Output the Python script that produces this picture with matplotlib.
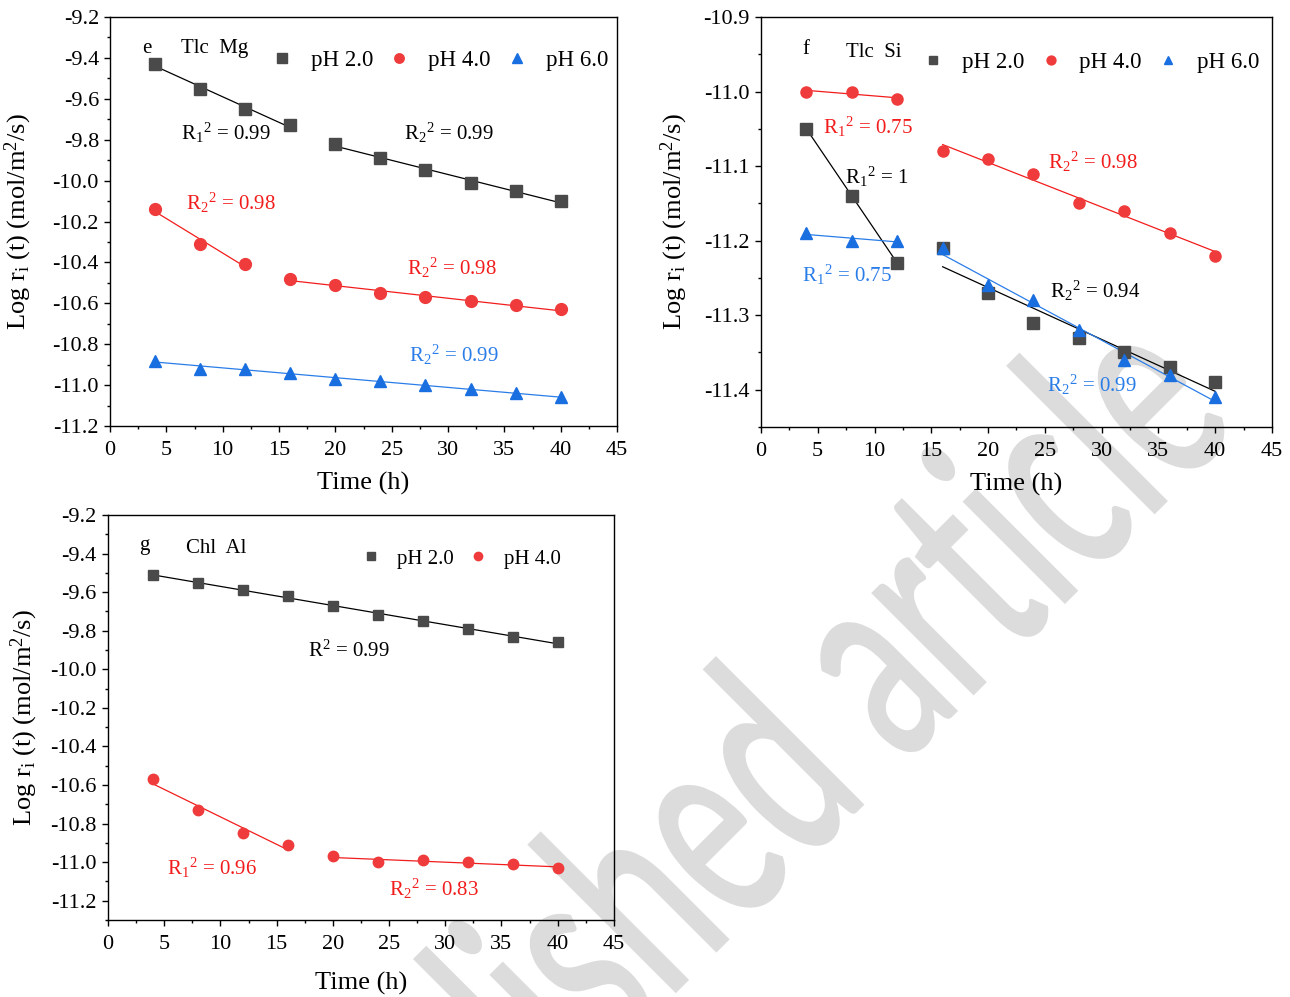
"""Dissolution rate vs. time for talc (Mg, Si) and chlorite (Al) at several pH values."""

import numpy as np
import matplotlib
matplotlib.use("Agg")
import matplotlib.pyplot as plt
import matplotlib.transforms as mtransforms
from matplotlib.font_manager import FontProperties
from matplotlib.patches import PathPatch
from matplotlib.textpath import TextPath
from matplotlib.ticker import MultipleLocator, FormatStrFormatter

plt.rcParams["font.family"] = ["Liberation Serif", "DejaVu Serif"]
plt.rcParams["mathtext.default"] = "regular"
plt.rcParams["axes.unicode_minus"] = False

time_h = [4, 8, 12, 16, 20, 24, 28, 32, 36, 40]

# panel e: talc, Mg release
e_ph2 = [-9.43, -9.55, -9.65, -9.73, -9.82, -9.89, -9.95, -10.01, -10.05, -10.10]
e_ph4 = [-10.14, -10.31, -10.41, -10.48, -10.51, -10.55, -10.57, -10.59, -10.61, -10.63]
e_ph6 = [-10.88, -10.92, -10.92, -10.94, -10.97, -10.98, -11.00, -11.02, -11.04, -11.06]

# panel f: talc, Si release
f_ph2 = [-11.05, -11.14, -11.23, -11.21, -11.27, -11.31, -11.33, -11.35, -11.37, -11.39]
f_ph4 = [-11.00, -11.00, -11.01, -11.08, -11.09, -11.11, -11.15, -11.16, -11.19, -11.22]
f_ph6 = [-11.19, -11.20, -11.20, -11.21, -11.26, -11.28, -11.32, -11.36, -11.38, -11.41]

# panel g: chlorite, Al release
g_ph2 = [-9.51, -9.55, -9.59, -9.62, -9.67, -9.72, -9.75, -9.79, -9.83, -9.86]
g_ph4 = [-10.57, -10.73, -10.85, -10.91, -10.97, -11.00, -10.99, -11.00, -11.01, -11.03]

# index ranges used for the linear fits
e_fits = {"ph2": [(0, 4), (4, 10)], "ph4": [(0, 3), (3, 10)], "ph6": [(0, 10)]}
f_fits = {"ph2": [(0, 3), (3, 10)], "ph4": [(0, 3), (3, 10)], "ph6": [(0, 3), (3, 10)]}
g_fits = {"ph2": [(0, 10)], "ph4": [(0, 4), (4, 10)]}

GREY = "#4a4a4a"
RED = "#ef3b3b"
BLUE = "#1a6fe0"
LINE_RED = "#f21c1c"
LINE_BLUE = "#2a7de8"

SERIES_STYLE = {
    "ph2": dict(marker="s", color=GREY, line="black", label="pH 2.0"),
    "ph4": dict(marker="o", color=RED, line=LINE_RED, label="pH 4.0"),
    "ph6": dict(marker="^", color=BLUE, line=LINE_BLUE, label="pH 6.0"),
}

YLABEL = r"Log r$_i$ (t) (mol/m$^2$/s)"


def draw_series(ax, key, values, fits, ms):
    style = SERIES_STYLE[key]
    x = np.array(time_h, dtype=float)
    y = np.array(values)
    ax.plot(x, y, ls="none", marker=style["marker"], ms=ms, color=style["color"],
            mec=style["color"], label=style["label"], zorder=3)
    for start, stop in fits:
        xs, ys = x[start:stop], y[start:stop]
        slope, icpt = np.polyfit(xs, ys, 1)
        ax.plot([xs[0], xs[-1]], [slope * xs[0] + icpt, slope * xs[-1] + icpt],
                color=style["line"], lw=0.9, zorder=2)


def style_axes(ax, ylim, ymajor, yminor, label_x, xlabel_y):
    ax.set_facecolor("none")
    ax.set_xlim(0, 45)
    ax.set_ylim(*ylim)
    ax.xaxis.set_major_locator(MultipleLocator(5))
    ax.xaxis.set_minor_locator(MultipleLocator(2.5))
    ax.yaxis.set_major_locator(MultipleLocator(ymajor))
    ax.yaxis.set_minor_locator(MultipleLocator(yminor))
    ax.yaxis.set_major_formatter(FormatStrFormatter("%.1f"))
    ax.tick_params(which="both", direction="out", top=False, right=False, width=1.0)
    ax.tick_params(which="major", length=4.5, labelsize=16, pad=3.5)
    ax.tick_params(axis="x", which="major", pad=6.5)
    ax.tick_params(which="minor", length=2.5)
    for sp in ax.spines.values():
        sp.set_linewidth(1.0)
    ax.set_xlabel("Time (h)", fontsize=19)
    ax.set_ylabel(YLABEL, fontsize=19)
    ax.yaxis.set_label_coords(label_x, 0.5)
    ax.xaxis.set_label_coords(0.5, xlabel_y)


def add_legend(ax, anchor, ncol, fontsize):
    ax.legend(loc="upper right", bbox_to_anchor=anchor, ncol=ncol, frameon=False,
              fontsize=fontsize, handlelength=1.0, handletextpad=0.75,
              columnspacing=0.65, markerscale=0.8, borderpad=0, borderaxespad=0)


fig = plt.figure(figsize=(12.9, 9.97), dpi=100)
ax_e = fig.add_axes([0.0853, 0.5727, 0.3930, 0.4102])
ax_f = fig.add_axes([0.5899, 0.5717, 0.3961, 0.4112])
ax_g = fig.add_axes([0.0837, 0.0772, 0.3922, 0.4062])

# e: talc Mg
draw_series(ax_e, "ph2", e_ph2, e_fits["ph2"], 8.5)
draw_series(ax_e, "ph4", e_ph4, e_fits["ph4"], 8.5)
draw_series(ax_e, "ph6", e_ph6, e_fits["ph6"], 8.5)
style_axes(ax_e, (-11.2, -9.2), 0.2, 0.1, -0.150, -0.112)
add_legend(ax_e, (0.982, 0.92), 3, 16.5)
ax_e.text(3.3, -9.352, "e", fontsize=15, ha="center", va="center")
ax_e.text(9.3, -9.352, "Tlc  Mg", fontsize=15, ha="center", va="center")
ax_e.text(10.3, -9.767, r"R$_1$$^2$ = 0.99", fontsize=15, ha="center", va="center", color="black")
ax_e.text(30.1, -9.767, r"R$_2$$^2$ = 0.99", fontsize=15, ha="center", va="center", color="black")
ax_e.text(10.75, -10.11, r"R$_2$$^2$ = 0.98", fontsize=15, ha="center", va="center", color=LINE_RED)
ax_e.text(30.35, -10.427, r"R$_2$$^2$ = 0.98", fontsize=15, ha="center", va="center", color=LINE_RED)
ax_e.text(30.5, -10.853, r"R$_2$$^2$ = 0.99", fontsize=15, ha="center", va="center", color=LINE_BLUE)

# f: talc Si
draw_series(ax_f, "ph2", f_ph2, f_fits["ph2"], 8)
draw_series(ax_f, "ph4", f_ph4, f_fits["ph4"], 8)
draw_series(ax_f, "ph6", f_ph6, f_fits["ph6"], 8)
style_axes(ax_f, (-11.45, -10.9), 0.1, 0.05, -0.139, -0.112)
add_legend(ax_f, (0.975, 0.915), 3, 16.5)
ax_f.text(3.96, -10.944, "f", fontsize=15, ha="center", va="center")
ax_f.text(9.95, -10.948, "Tlc  Si", fontsize=15, ha="center", va="center")
ax_f.text(9.42, -11.047, r"R$_1$$^2$ = 0.75", fontsize=15, ha="center", va="center", color=LINE_RED)
ax_f.text(10.2, -11.114, r"R$_1$$^2$ = 1", fontsize=15, ha="center", va="center", color="black")
ax_f.text(29.2, -11.094, r"R$_2$$^2$ = 0.98", fontsize=15, ha="center", va="center", color=LINE_RED)
ax_f.text(7.57, -11.2455, r"R$_1$$^2$ = 0.75", fontsize=15, ha="center", va="center", color=LINE_BLUE)
ax_f.text(29.4, -11.267, r"R$_2$$^2$ = 0.94", fontsize=15, ha="center", va="center", color="black")
ax_f.text(29.15, -11.393, r"R$_2$$^2$ = 0.99", fontsize=15, ha="center", va="center", color=LINE_BLUE)

# g: chlorite Al
draw_series(ax_g, "ph2", g_ph2, g_fits["ph2"], 7)
draw_series(ax_g, "ph4", g_ph4, g_fits["ph4"], 7.5)
style_axes(ax_g, (-11.3, -9.2), 0.2, 0.1, -0.134, -0.128)
add_legend(ax_g, (0.895, 0.916), 2, 15)
ax_g.text(3.2, -9.356, "g", fontsize=15, ha="center", va="center")
ax_g.text(9.64, -9.371, "Chl  Al", fontsize=15, ha="center", va="center")
ax_g.text(21.4, -9.905, r"R$^2$ = 0.99", fontsize=15, ha="center", va="center", color="black")
ax_g.text(9.29, -11.031, r"R$_1$$^2$ = 0.96", fontsize=15, ha="center", va="center", color=LINE_RED)
ax_g.text(29.0, -11.14, r"R$_2$$^2$ = 0.83", fontsize=15, ha="center", va="center", color=LINE_RED)

# diagonal grey stamp behind the panels
WATERMARK = "Unpublished article"
wm_prop = FontProperties(family="Lato", weight="semibold")
wm_path = TextPath((0, 0), WATERMARK, size=1, prop=wm_prop)
stem = 0.06
d_stem = TextPath((0, 0), WATERMARK[:11], size=1, prop=wm_prop).get_extents().x1 - stem
l_stem = TextPath((0, 0), WATERMARK[:18], size=1, prop=wm_prop).get_extents().x1 - stem
l_top = TextPath((0, 0), "l", size=1, prop=wm_prop).get_extents().y1
sx = np.hypot(1012 - 708, 663 - 360) / (l_stem - d_stem)
sy = 210 / l_top
wm_trans = (mtransforms.Affine2D()
            .translate(-l_stem, -l_top)
            .scale(sx, sy)
            .rotate_deg(45)
            .translate(1012, 997 - 360)
            .scale(1 / fig.dpi)
            + fig.dpi_scale_trans)
wm_patch = PathPatch(wm_path, transform=wm_trans, facecolor="#dcdcdc",
                     edgecolor="none", zorder=-5)
fig.add_artist(wm_patch)

fig.savefig("out.png", dpi=100)
